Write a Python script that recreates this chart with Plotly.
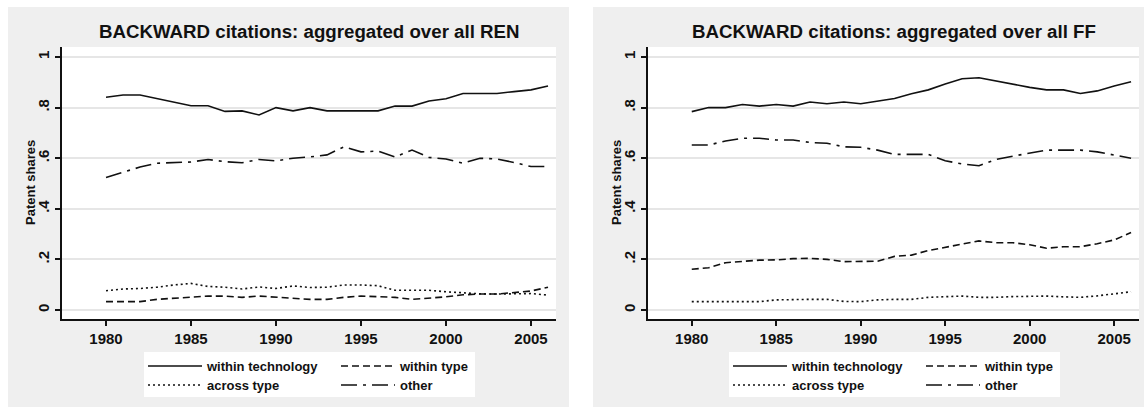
import plotly.graph_objects as go

# ---- data -------------------------------------------------------------
years = list(range(1980, 2007))

ren_within_tech = [0.841, 0.850, 0.850, 0.836, 0.820, 0.807, 0.807, 0.785, 0.787, 0.771,
                   0.800, 0.787, 0.800, 0.787, 0.787, 0.787, 0.787, 0.806, 0.806, 0.826,
                   0.835, 0.856, 0.856, 0.856, 0.863, 0.870, 0.885]
ren_within_type = [0.033, 0.033, 0.033, 0.042, 0.046, 0.050, 0.055, 0.055, 0.050, 0.055,
                   0.050, 0.048, 0.042, 0.042, 0.050, 0.055, 0.053, 0.050, 0.042, 0.046,
                   0.052, 0.060, 0.063, 0.063, 0.070, 0.075, 0.090]
ren_across_type = [0.076, 0.083, 0.085, 0.090, 0.099, 0.105, 0.093, 0.090, 0.083, 0.091,
                   0.085, 0.095, 0.089, 0.090, 0.099, 0.099, 0.096, 0.078, 0.078, 0.078,
                   0.072, 0.068, 0.064, 0.063, 0.063, 0.065, 0.059]
ren_other = [0.524, 0.545, 0.565, 0.580, 0.583, 0.585, 0.595, 0.586, 0.582, 0.595,
             0.589, 0.600, 0.605, 0.613, 0.645, 0.625, 0.628, 0.605, 0.632, 0.603,
             0.597, 0.580, 0.600, 0.597, 0.583, 0.567, 0.567]

ff_within_tech = [0.784, 0.800, 0.800, 0.812, 0.806, 0.812, 0.806, 0.822, 0.815, 0.822,
                  0.815, 0.826, 0.836, 0.855, 0.870, 0.893, 0.914, 0.918, 0.905, 0.890,
                  0.880, 0.870, 0.870, 0.856, 0.866, 0.885, 0.902]
ff_within_type = [0.161, 0.167, 0.187, 0.191, 0.197, 0.198, 0.203, 0.204, 0.200, 0.191,
                  0.191, 0.193, 0.212, 0.217, 0.235, 0.248, 0.262, 0.273, 0.266, 0.266,
                  0.258, 0.244, 0.250, 0.250, 0.262, 0.277, 0.306]
ff_across_type = [0.033, 0.033, 0.033, 0.033, 0.033, 0.040, 0.042, 0.042, 0.042, 0.034,
                  0.033, 0.040, 0.042, 0.042, 0.050, 0.052, 0.055, 0.050, 0.050, 0.053,
                  0.055, 0.055, 0.052, 0.050, 0.056, 0.063, 0.072]
ff_other = [0.652, 0.652, 0.668, 0.679, 0.679, 0.672, 0.672, 0.662, 0.659, 0.645,
            0.643, 0.632, 0.615, 0.615, 0.615, 0.590, 0.577, 0.570, 0.595, 0.608,
            0.620, 0.632, 0.632, 0.632, 0.625, 0.613, 0.600]

x_ticks = [1980, 1985, 1990, 1995, 2000, 2005]
y_ticks = [0, 0.2, 0.4, 0.6, 0.8, 1]
y_tick_text = ["0", ".2", ".4", ".6", ".8", "1"]

titles = ["BACKWARD citations: aggregated over all REN",
          "BACKWARD citations: aggregated over all FF"]
y_title = "Patent shares"

# ---- styling ----------------------------------------------------------
W, H = 1144, 412
FONT = "Liberation Sans, Arial, sans-serif"
INK = "#111111"
PANEL = "#efefef"
GRID = "#e6e6e6"

series_style = {
    "within technology": "solid",
    "within type": "7px,4px",
    "across type": "2px,3px",
    "other": "16px,6px,3px,6px",
}


def fx(px):
    return px / W


def fy(px):
    return 1 - px / H


panels = [
    dict(xa="x", ya="y", x0=62, x1=556, gray=(8, 569), leg=(144, 475), legends=("legend", "legend2"),
         data={"within technology": ren_within_tech, "within type": ren_within_type,
               "across type": ren_across_type, "other": ren_other}),
    dict(xa="x2", ya="y2", x0=648, x1=1139, gray=(593, 1150), leg=(729, 1060), legends=("legend3", "legend4"),
         data={"within technology": ff_within_tech, "within type": ff_within_type,
               "across type": ff_across_type, "other": ff_other}),
]

PLOT_TOP, PLOT_BOTTOM = 47, 319
X_RANGE = [1977.41, 2006.47]
Y_RANGE = [-0.0356, 1.0395]

fig = go.Figure()
shapes = []
annotations = []

for i, p in enumerate(panels):
    # row 1 of the key: within technology / within type; row 2: across type / other
    legend_of = {"within technology": p["legends"][0], "within type": p["legends"][0],
                 "across type": p["legends"][1], "other": p["legends"][1]}
    for name in ["within technology", "within type", "across type", "other"]:
        fig.add_trace(go.Scatter(
            x=years, y=p["data"][name], mode="lines", name=name,
            line=dict(color=INK, width=1.6, dash=series_style[name]),
            xaxis=p["xa"], yaxis=p["ya"], legend=legend_of[name],
            hoverinfo="skip",
        ))

    # grey graph region, white plot region, white key box
    shapes.append(dict(type="rect", xref="paper", yref="paper", layer="below",
                       x0=fx(p["gray"][0]), x1=fx(p["gray"][1]), y0=fy(407), y1=fy(7),
                       fillcolor=PANEL, line=dict(width=0)))
    shapes.append(dict(type="rect", xref="paper", yref="paper", layer="below",
                       x0=fx(p["x0"]), x1=fx(p["x1"]), y0=fy(PLOT_BOTTOM), y1=fy(PLOT_TOP),
                       fillcolor="white", line=dict(width=0)))
    shapes.append(dict(type="rect", xref="paper", yref="paper", layer="below",
                       x0=fx(p["leg"][0]), x1=fx(p["leg"][1]), y0=fy(397), y1=fy(352),
                       fillcolor="white", line=dict(width=0)))

    annotations.append(dict(text=titles[i], xref="paper", yref="paper",
                            x=fx((p["x0"] + p["x1"]) / 2), y=fy(32),
                            xanchor="center", yanchor="middle", showarrow=False,
                            font=dict(family=FONT, size=18.7, color=INK, weight="bold")))
    annotations.append(dict(text=y_title, xref="paper", yref="paper",
                            x=fx(p["x0"] - 32), y=fy((PLOT_TOP + PLOT_BOTTOM) / 2),
                            xanchor="center", yanchor="middle", showarrow=False, textangle=-90,
                            font=dict(family=FONT, size=13, color=INK, weight="bold")))

    axis_common = dict(showline=True, linecolor=INK, linewidth=1.5, ticks="outside",
                       ticklen=5, tickwidth=1.5, tickcolor=INK, zeroline=False,
                       tickfont=dict(family=FONT, size=15, color=INK, weight="bold"))
    xkey = "xaxis" if i == 0 else "xaxis2"
    ykey = "yaxis" if i == 0 else "yaxis2"
    fig.layout[xkey] = dict(domain=[fx(p["x0"]), fx(p["x1"])], range=X_RANGE,
                            tickvals=x_ticks, showgrid=False, anchor=p["ya"], **axis_common)
    fig.layout[ykey] = dict(domain=[fy(PLOT_BOTTOM), fy(PLOT_TOP)], range=Y_RANGE,
                            tickvals=y_ticks, ticktext=y_tick_text, tickangle=-90,
                            showgrid=True, gridcolor=GRID, gridwidth=2,
                            anchor=p["xa"], **axis_common)

    for row, lg in enumerate(p["legends"]):
        fig.layout[lg] = dict(
            orientation="h", x=fx(p["leg"][0] - 1), y=fy(351 + row * 19),
            xanchor="left", yanchor="top", bgcolor="rgba(0,0,0,0)",
            font=dict(family=FONT, size=13, color=INK, weight="bold"),
            entrywidth=124, entrywidthmode="pixels", itemwidth=54,
            itemclick=False, itemdoubleclick=False,
        )

fig.update_layout(
    width=W, height=H, autosize=False,
    margin=dict(l=0, r=0, t=0, b=0),
    paper_bgcolor="white", plot_bgcolor="rgba(0,0,0,0)",
    shapes=shapes, annotations=annotations,
    showlegend=True,
)

fig.write_html("out.html", config={"displayModeBar": False})
